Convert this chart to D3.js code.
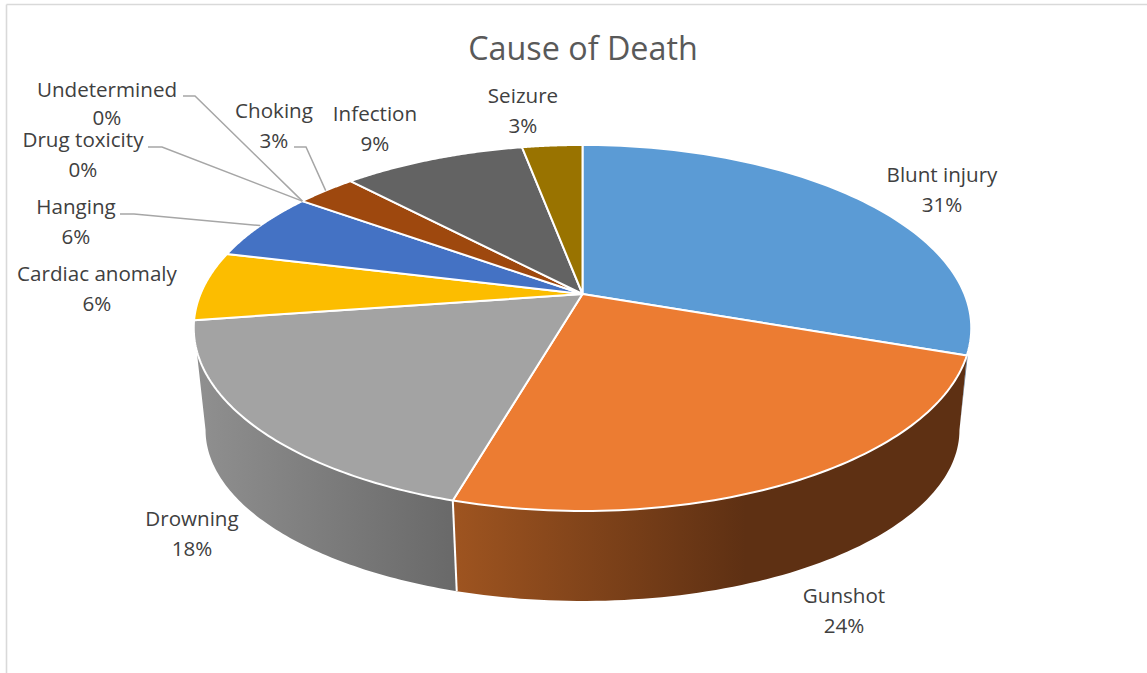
<!DOCTYPE html>
<html>
<head>
<meta charset="utf-8">
<script src="https://cdn.jsdelivr.net/npm/d3@7"></script>
<style>
html,body{margin:0;padding:0;background:#fff;overflow:hidden}
svg{display:block}
text{font-family:"Open Sans","Noto Sans",sans-serif}
</style>
</head>
<body>
<svg id="chart" width="1147" height="673"></svg>
<script>
const chartTitle = "Cause of Death";
const categories = ["Blunt injury","Gunshot","Drowning","Cardiac anomaly","Hanging","Drug toxicity","Undetermined","Choking","Infection","Seizure"];
const values = [30.3,24.2,18.2,6.1,6.1,0,0,3.0,9.1,3.0];
const percentLabels = ["31%","24%","18%","6%","6%","0%","0%","3%","9%","3%"];
const colors = ["#5b9bd5","#ec7c32","#a3a3a3","#fcbd00","#4472c4","#70ad47","#264478","#9e480e","#636363","#997300"];

// Layout (not data)
const apex = {x:582.5, y:294};
const K = 0.1857;
const topFace = {a:382, b:176.7, c:0};
const bottomFace = {a:370.4, b:165.1, c:104.2};
const labelAnchors = {
  "Blunt injury":[942,182],"Gunshot":[844,603],"Drowning":[192,526],"Cardiac anomaly":[97,281],
  "Hanging":[76,214],"Drug toxicity":[83,147],"Undetermined":[107,97],"Choking":[274,118],
  "Infection":[375,121],"Seizure":[523,103]
};
const lineGap = {"Undetermined":28};
const leaders = {
  "Undetermined":[[183,96],[195,96]],
  "Drug toxicity":[[148,147],[162,147]],
  "Hanging":[[120,214],[134,214]],
  "Choking":[[294,147],[306,147]]
};

const svg = d3.select("#chart");
const defs = svg.append("defs");

function project(face, theta){
  const u = Math.sin(theta), v = -Math.cos(theta), w = 1 - K*v;
  return [apex.x + face.a*u/w, apex.y + face.c + face.b*v/w];
}
const arcs = d3.pie().value(d=>d).sort(null)(values);
const line = d3.line();
const sweep = (t0,t1,n=80)=>d3.range(n+1).map(i=>t0+(t1-t0)*i/n);
const deg = Math.PI/180;
const bottomTangentR = Math.PI/2 + Math.asin(K);
const bottomTangentL = 2*Math.PI - bottomTangentR;
const topTangentR = 107.5*deg, topTangentL = 252.5*deg;

function addGradient(id,x1,x2,c1,c2){
  const g = defs.append("linearGradient").attr("id",id).attr("gradientUnits","userSpaceOnUse")
    .attr("x1",x1).attr("x2",x2).attr("y1",0).attr("y2",0);
  g.append("stop").attr("offset",0).attr("stop-color",c1);
  g.append("stop").attr("offset",1).attr("stop-color",c2);
}
addGradient("wallBrown",455,745,"#9e5420","#5e3013");
addGradient("wallGray",200,455,"#8f8f8f","#696969");

// Border of the chart area
const border = svg.append("g").attr("fill","none").attr("stroke","#d9d9d9").attr("stroke-width",1.6);
border.append("line").attr("x1",6.5).attr("x2",1147).attr("y1",4.5).attr("y2",4.5);
border.append("line").attr("x1",6.5).attr("x2",6.5).attr("y1",4.5).attr("y2",673);

// Walls
const walls = svg.append("g");
const [blunt,gun,drown] = arcs;
walls.append("path")
  .attr("d", line([...sweep(topTangentR,blunt.endAngle,10).map(t=>project(topFace,t)), project(bottomFace,bottomTangentR)])+"Z")
  .attr("fill","#5d7d9e");
walls.append("path")
  .attr("d", line([...sweep(blunt.endAngle,gun.endAngle).map(t=>project(topFace,t)),
                   ...sweep(gun.endAngle,bottomTangentR).map(t=>project(bottomFace,t))])+"Z")
  .attr("fill","url(#wallBrown)");
walls.append("path")
  .attr("d", line([...sweep(gun.endAngle,topTangentL).map(t=>project(topFace,t)),
                   ...sweep(bottomTangentL,gun.endAngle).map(t=>project(bottomFace,t))])+"Z")
  .attr("fill","url(#wallGray)");
walls.append("path")
  .attr("d", line([project(topFace,gun.endAngle),project(bottomFace,gun.endAngle)]))
  .attr("stroke","#fff").attr("stroke-width",2).attr("fill","none");

// Faces
svg.append("g").selectAll("path").data(arcs.filter(d=>d.value>0)).join("path")
  .attr("d", d=>line([[apex.x,apex.y],...sweep(d.startAngle,d.endAngle).map(t=>project(topFace,t))])+"Z")
  .attr("fill",d=>colors[d.index])
  .attr("stroke","#fff").attr("stroke-width",2).attr("stroke-linejoin","round");

// Leader lines
svg.append("g").selectAll("path").data(arcs.filter(d=>leaders[categories[d.index]])).join("path")
  .attr("d", d=>{
    const mid=(d.startAngle+d.endAngle)/2;
    return line([...leaders[categories[d.index]],project(topFace,mid)]);
  })
  .attr("fill","none").attr("stroke","#a6a6a6").attr("stroke-width",1.5);

// Title
svg.append("text").attr("x",583).attr("y",60).attr("text-anchor","middle")
  .attr("font-size",32.3).attr("fill","#595959").text(chartTitle);

// Labels
const labels = svg.append("g").attr("font-size",20.6).attr("fill","#404040").attr("text-anchor","middle");
categories.forEach((c,i)=>{
  const [x,y]=labelAnchors[c];
  labels.append("text").attr("x",x).attr("y",y).text(c);
  labels.append("text").attr("x",x).attr("y",y+(lineGap[c]||29.5)).text(percentLabels[i]);
});
</script>
</body>
</html>
